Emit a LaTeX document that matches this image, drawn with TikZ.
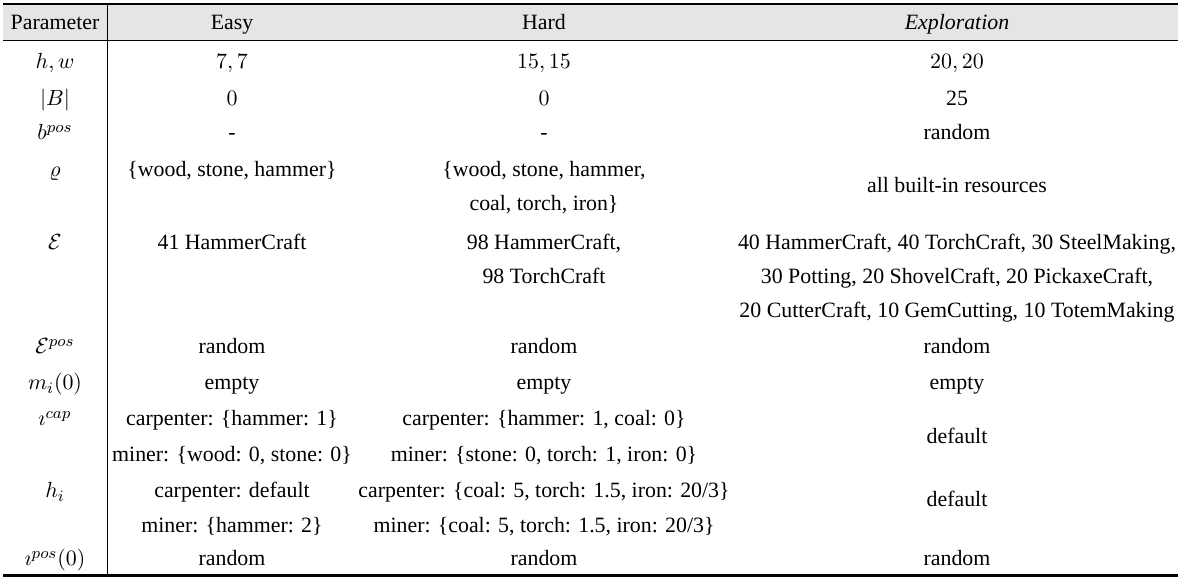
\documentclass[tikz,border=0pt]{standalone}
\usepackage[no-math]{fontspec}
\setmainfont{Liberation Serif}
\usepackage{amsmath}
\usepackage{tikz}
\tikzset{every picture/.style={line width=0.75pt}}
\tikzset{cell/.style={anchor=base,inner sep=0pt}}

\begin{document}
\begin{tikzpicture}[x=0.5pt,y=0.5pt,yscale=-1,xscale=1,font=\fontsize{10.93}{13}\selectfont]
		\useasboundingbox (0,0) rectangle (1185,582); %set diagram to the reference size
		
		%Shape: Rectangle [header shade]
		\fill [black!10]  (3,5) -- (1178,5) -- (1178,40) -- (3,40) -- cycle ;
		%Straight Lines [top rule]
		\draw [line width=1.3pt]   (3,4) -- (1178,4) ;
		%Straight Lines [header rule]
		\draw [line width=0.8pt]   (3,40.5) -- (1178,40.5) ;
		%Straight Lines [bottom rule]
		\draw [line width=1.5pt]   (3,575.5) -- (1178,575.5) ;
		%Straight Lines [column rule]
		\draw [line width=0.7pt]   (107.5,5) -- (107.5,575) ;
		
		% Text Node
		\draw (55,30) node (parhead) [cell] {Parameter};
		% Text Node
		\draw (232,30) node (easyhead) [cell] {Easy};
		% Text Node
		\draw (544,30) node (hardhead) [cell] {Hard};
		% Text Node
		\draw (957,30) node (explhead) [cell] {\textit{Exploration}};
		
		% Text Node
		\draw (55,69) node (parhw) [cell] {$h, w$};
		% Text Node
		\draw (232,69) node (easyhw) [cell] {$7, 7$};
		% Text Node
		\draw (544,69) node (hardhw) [cell] {$15, 15$};
		% Text Node
		\draw (957,69) node (explhw) [cell] {$20, 20$};
		
		% Text Node
		\draw (55,106) node (parb) [cell] {$|B|$};
		% Text Node
		\draw (232,106) node (easyb) [cell] {$0$};
		% Text Node
		\draw (544,106) node (hardb) [cell] {$0$};
		% Text Node
		\draw (957,106) node (explb) [cell] {25};
		
		% Text Node
		\draw (55,140) node (parbpos) [cell] {$b^{pos}$};
		% Text Node
		\draw (232,140) node (easybpos) [cell] {-};
		% Text Node
		\draw (544,140) node (hardbpos) [cell] {-};
		% Text Node
		\draw (957,140) node (explbpos) [cell] {random};
		
		% Text Node
		\draw (55,177) node (parres) [cell] {$\varrho$};
		% Text Node
		\draw (232,177) node (easyres) [cell] {\{wood, stone, hammer\}};
		% Text Node
		\draw (544,177) node (hardresa) [cell] {\{wood, stone, hammer,};
		% Text Node
		\draw (544,211) node (hardresb) [cell] {coal, torch, iron\}};
		% Text Node
		\draw (957,193) node (explres) [cell] {all built-in resources};
		
		% Text Node
		\draw (55,250) node (parev) [cell] {$\mathcal{E}$};
		% Text Node
		\draw (232,250) node (easyev) [cell] {41 HammerCraft};
		% Text Node
		\draw (544,250) node (hardeva) [cell] {98 HammerCraft,};
		% Text Node
		\draw (544,284) node (hardevb) [cell] {98 TorchCraft};
		% Text Node
		\draw (957,250) node (expleva) [cell] {40 HammerCraft, 40 TorchCraft, 30 SteelMaking,};
		% Text Node
		\draw (957,284) node (explevb) [cell] {30 Potting, 20 ShovelCraft, 20 PickaxeCraft,};
		% Text Node
		\draw (957,318) node (explevc) [cell] {20 CutterCraft, 10 GemCutting, 10 TotemMaking};
		
		% Text Node
		\draw (55,354) node (parevpos) [cell] {$\mathcal{E}^{pos}$};
		% Text Node
		\draw (232,354) node (easyevpos) [cell] {random};
		% Text Node
		\draw (544,354) node (hardevpos) [cell] {random};
		% Text Node
		\draw (957,354) node (explevpos) [cell] {random};
		
		% Text Node
		\draw (55,390) node (parmem) [cell] {$m_i(0)$};
		% Text Node
		\draw (232,390) node (easymem) [cell] {empty};
		% Text Node
		\draw (544,390) node (hardmem) [cell] {empty};
		% Text Node
		\draw (957,390) node (explmem) [cell] {empty};
		
		% Text Node
		\draw (55,426) node (parcap) [cell] {$\imath^{cap}$};
		% Text Node
		\draw (232,426) node (easycapa) [cell] {carpenter: \{hammer: 1\}};
		% Text Node
		\draw (232,462) node (easycapb) [cell] {miner: \{wood: 0, stone: 0\}};
		% Text Node
		\draw (544,426) node (hardcapa) [cell] {carpenter: \{hammer: 1, coal: 0\}};
		% Text Node
		\draw (544,462) node (hardcapb) [cell] {miner: \{stone: 0, torch: 1, iron: 0\}};
		% Text Node
		\draw (957,444) node (explcap) [cell] {default};
		
		% Text Node
		\draw (55,498) node (parhi) [cell] {$h_i$};
		% Text Node
		\draw (232,498) node (easyhia) [cell] {carpenter: default};
		% Text Node
		\draw (232,533) node (easyhib) [cell] {miner: \{hammer: 2\}};
		% Text Node
		\draw (544,498) node (hardhia) [cell] {carpenter: \{coal: 5, torch: 1.5, iron: 20/3\}};
		% Text Node
		\draw (544,533) node (hardhib) [cell] {miner: \{coal: 5, torch: 1.5, iron: 20/3\}};
		% Text Node
		\draw (957,507) node (explhi) [cell] {default};
		
		% Text Node
		\draw (55,566) node (paripos) [cell] {$\imath^{pos}(0)$};
		% Text Node
		\draw (232,566) node (easyipos) [cell] {random};
		% Text Node
		\draw (544,566) node (hardipos) [cell] {random};
		% Text Node
		\draw (957,566) node (explipos) [cell] {random};
		
		\end{tikzpicture}
\end{document}
